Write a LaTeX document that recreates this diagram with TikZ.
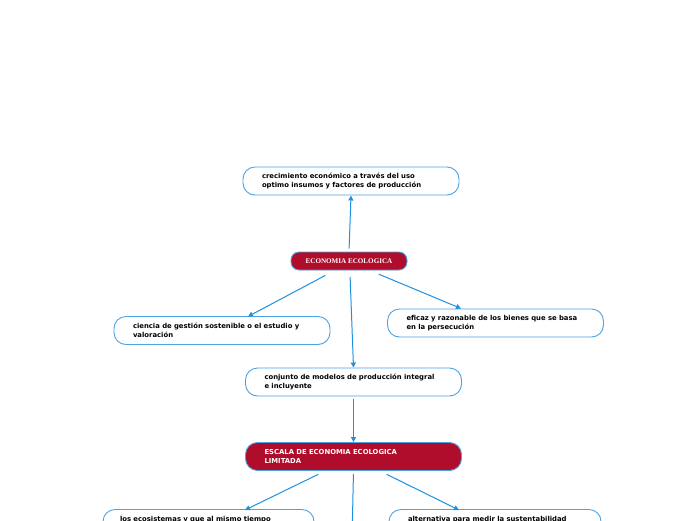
\documentclass[tikz,border=0pt]{standalone}
\usepackage{fontspec}
\newfontfamily\dv{DejaVu Sans}
\newfontfamily\ls{Liberation Serif}
\usetikzlibrary{arrows.meta}
\definecolor{bord}{RGB}{75,163,227}
\definecolor{edge}{RGB}{30,145,222}
\definecolor{crim}{RGB}{176,12,44}
\tikzset{
  x=1pt,y=-1pt,
  topic/.style={draw=bord, line width=0.9pt, rounded corners=12pt, fill=white,
    minimum width=216pt, minimum height=28pt, text width=178pt, inner xsep=19pt, inner ysep=0pt,
    align=left, font=\dv\bfseries\fontsize{6.85}{9}\selectfont, text=black},
  maintopic/.style={topic, fill=crim, text=white},
  central/.style={draw=bord, line width=0.9pt, rounded corners=8pt, fill=crim,
    minimum width=116pt, minimum height=18pt, inner sep=0pt, align=center,
    font=\ls\bfseries\fontsize{7.1}{8}\selectfont, text=white},
  conn/.style={draw=edge, line width=1pt, -{Triangle[length=5pt,width=5pt]}, shorten <=3pt}
}
\begin{document}
\begin{tikzpicture}
\useasboundingbox (0,0) rectangle (696,520);
\clip (0,0) rectangle (696,520);
\fill[white] (0,0) rectangle (696,520);
\node[topic] (top) at (351,181) {crecimiento económico a través del uso\\optimo insumos y factores de producción};
\node[central] (eco) at (349,261) {ECONOMIA ECOLOGICA};
\node[topic] (left) at (222,330.5) {ciencia de gestión sostenible o el estudio y\\valoración};
\node[topic] (right) at (495.5,323) {eficaz y razonable de los bienes que se basa\\en la persecución};
\node[topic] (mid) at (353.5,382) {conjunto de modelos de producción integral\\e incluyente};
\node[maintopic] (esc) at (353.5,456.5) {ESCALA DE ECONOMIA ECOLOGICA\\LIMITADA};
\node[topic, minimum width=211pt, text width=177pt, inner xsep=17pt] (bl) at (208.5,523.5) {los ecosistemas y que al mismo tiempo\\\phantom{x}};
\node[topic, minimum width=212pt, text width=174pt, inner xsep=19pt] (br) at (495,523.5) {alternativa para medir la sustentabilidad\\\phantom{x}};
\coordinate (down) at (352,540);

\draw[conn] (eco.north) -- (top.south);
\draw[conn] (328,274) -- (248,316.5);
\draw[conn] (350,274) -- (mid.north);
\draw[conn] (376,273) -- (461,308.5);
\draw[conn] (mid.south) -- (esc.north);
\draw[conn] (321,473) -- (245,510);
\draw[conn] (384,473) -- (459,510);
\draw[draw=edge, line width=1pt, shorten <=3pt] (esc.south) -- (down);
\end{tikzpicture}
\end{document}
